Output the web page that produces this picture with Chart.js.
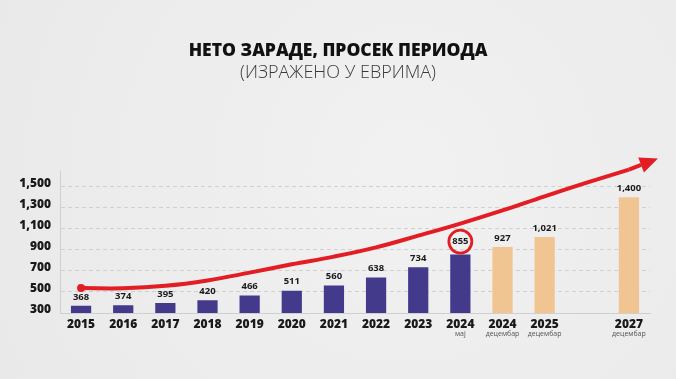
<!DOCTYPE html>
<html>
<head>
<meta charset="utf-8">
<script src="https://cdn.jsdelivr.net/npm/chart.js@4.4.1/dist/chart.umd.min.js"></script>
<style>
html,body{margin:0;padding:0;background:#ececec;}
#wrap{width:676px;height:379px;position:relative;}
</style>
</head>
<body>
<div id="wrap"><canvas id="c" width="676" height="379"></canvas></div>
<script>
// ---- data ----
const categories = ['2015','2016','2017','2018','2019','2020','2021','2022','2023','2024','2024','2025','','2027'];
const subLabels  = ['','','','','','','','','','мај','децембар','децембар','','децембар'];
const actualValues    = [368,374,395,420,466,511,560,638,734,855,null,null,null,null];
const projectedValues = [null,null,null,null,null,null,null,null,null,null,927,1021,null,1400];
const trendValues = [537,535,558,609,683,762,835,923,1034,1149,1274,1408,1537,1662];
const yTicks = [300,500,700,900,1100,1300,1500];
const highlightIndex = 9;
const titleText = 'НЕТО ЗАРАДЕ, ПРОСЕК ПЕРИОДА';
const subtitleText = '(ИЗРАЖЕНО У ЕВРИМА)';

const RED = '#e21d24';
const PURPLE = '#433a8c';
const TAN = '#f0c592';
const FONT = '"Open Sans", "DejaVu Sans", sans-serif';

const bgPlugin = {
  id: 'bg',
  beforeDraw(chart) {
    const {ctx, width, height} = chart;
    ctx.save();
    const g = ctx.createRadialGradient(width*0.6, height*0.45, 20, width*0.6, height*0.45, width*0.75);
    g.addColorStop(0, '#f1f1f1');
    g.addColorStop(1, '#e8e8e8');
    ctx.fillStyle = g;
    ctx.fillRect(0, 0, width, height);
    ctx.restore();
  }
};

const extrasPlugin = {
  id: 'extras',
  afterDatasetsDraw(chart) {
    const {ctx, chartArea} = chart;
    const x = chart.scales.x;
    ctx.save();
    // axis line extension above the top tick
    ctx.strokeStyle = '#cfcfcf'; ctx.lineWidth = 1;
    ctx.beginPath();
    ctx.moveTo(chartArea.left + 0.5, chartArea.top - 16);
    ctx.lineTo(chartArea.left + 0.5, chartArea.top);
    ctx.stroke();
    // value labels
    ctx.font = '700 9.5px ' + FONT;
    ctx.fillStyle = '#1a1a1a';
    ctx.textAlign = 'center';
    ctx.textBaseline = 'middle';
    [0,1].forEach(di => {
      const meta = chart.getDatasetMeta(di);
      const data = chart.data.datasets[di].data;
      meta.data.forEach((bar, i) => {
        if (data[i] == null) return;
        const off = i === highlightIndex ? 13 : 9;
        ctx.fillText(data[i].toLocaleString('en-US'), bar.x, bar.y - off);
        if (i === highlightIndex) {
          ctx.beginPath();
          ctx.strokeStyle = RED;
          ctx.lineWidth = 2.8;
          ctx.arc(bar.x, bar.y - off, 11.5, 0, Math.PI*2);
          ctx.stroke();
        }
      });
    });
    // sub labels
    ctx.font = '400 7px ' + FONT;
    ctx.fillStyle = '#555';
    subLabels.forEach((s, i) => {
      if (!s) return;
      ctx.fillText(s, x.getPixelForValue(i), 334);
    });
    // arrow head at end of trend line
    const lm = chart.getDatasetMeta(2);
    const pts = lm.data;
    const p1 = pts[pts.length-2], p2 = pts[pts.length-1];
    let dx = p2.x - p1.x, dy = p2.y - p1.y;
    const len = Math.hypot(dx, dy); dx /= len; dy /= len;
    const ang = Math.atan2(dy, dx) - 0.06;
    dx = Math.cos(ang); dy = Math.sin(ang);
    const baseX = p2.x + dx*13, baseY = p2.y + dy*13;
    ctx.strokeStyle = RED; ctx.lineWidth = 4; ctx.lineCap = 'butt';
    ctx.beginPath(); ctx.moveTo(p2.x, p2.y); ctx.lineTo(baseX, baseY); ctx.stroke();
    const tipX = baseX + dx*18, tipY = baseY + dy*18;
    const nx = -dy, ny = dx;
    ctx.fillStyle = RED;
    ctx.beginPath();
    ctx.moveTo(tipX, tipY);
    ctx.lineTo(baseX + nx*8, baseY + ny*8);
    ctx.lineTo(baseX - nx*8, baseY - ny*8);
    ctx.closePath(); ctx.fill();
    ctx.restore();
  }
};

new Chart(document.getElementById('c'), {
  data: {
    labels: categories,
    datasets: [
      {type:'bar', data: actualValues, backgroundColor: PURPLE, grouped:false, barPercentage:0.48, categoryPercentage:1, order:2},
      {type:'bar', data: projectedValues, backgroundColor: TAN, grouped:false, barPercentage:0.48, categoryPercentage:1, order:2},
      {type:'line', data: trendValues, borderColor: RED, borderWidth: 4, tension: 0.4, clip: false,
       pointRadius: trendValues.map((v,i)=> i===0 ? 4 : 0), pointBackgroundColor: RED, pointBorderWidth:0, order:0}
    ]
  },
  options: {
    responsive: false,
    animation: false,
    events: [],
    layout: {padding: {left: 0, right: 0, bottom: 26, top: 0}},
    plugins: {
      legend: {display:false},
      tooltip: {enabled:false},
      title: {display:true, text: titleText, color:'#111', font:{family:FONT, size:17.5, weight:800}, padding:{top:41, bottom:0}},
      subtitle: {display:true, text: subtitleText, color:'#3a3a3a', font:{family:FONT, size:18, weight:300}, padding:{top:0, bottom:103}}
    },
    scales: {
      x: {
        offset: true,
        grid: {display:false, drawTicks:false},
        border: {display:true, color:'#cfcfcf', width:1},
        ticks: {color:'#1a1a1a', font:{family:FONT, size:12, weight:800}, padding:4, autoSkip:false, maxRotation:0},
        afterFit(s){ s.height = 40; }
      },
      y: {
        min: 300, max: 1500,
        afterBuildTicks(s){ s.ticks = yTicks.map(v => ({value:v})); },
        grid: {color:'#d0d0d0', drawTicks:false, lineWidth: 1},
        border: {display:true, color:'#cfcfcf', dash:[4,3]},
        ticks: {color:'#1a1a1a', font:{family:FONT, size:12, weight:800}, padding:9, labelOffset:-3,
                callback: v => v.toLocaleString('en-US')},
        afterFit(s){ s.width = 60; }
      },
      yR: {
        position: 'right', display: true,
        grid: {display:false, drawTicks:false},
        border: {display:false},
        ticks: {display:false},
        afterFit(s){ s.width = 26; }
      }
    }
  },
  plugins: [bgPlugin, extrasPlugin]
});
</script>
</body>
</html>
